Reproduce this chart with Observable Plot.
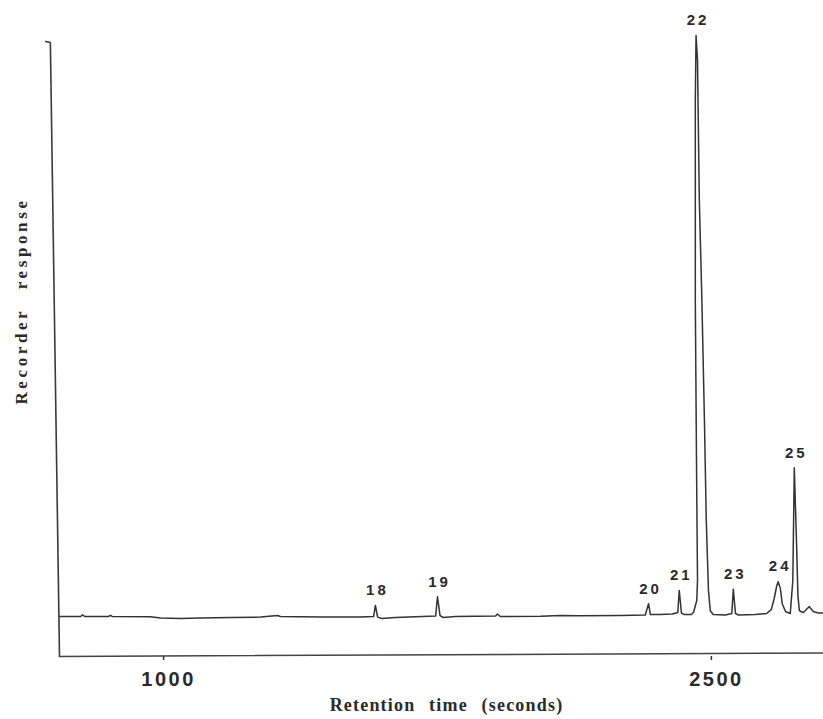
<!DOCTYPE html>
<html>
<head>
<meta charset="utf-8">
<script src="https://cdn.jsdelivr.net/npm/d3@7"></script>
<script src="https://cdn.jsdelivr.net/npm/@observablehq/plot@0.6"></script>
<style>
  html, body { margin: 0; padding: 0; background: #fff; }
  #chart svg { display: block; }
</style>
</head>
<body>
<div id="chart"></div>
<script>
// Chromatogram trace (retention time in seconds, recorder response in arbitrary units)
const traceTime = [715, 773, 778, 784, 849, 855, 860, 964, 992, 1047,
  1101, 1183, 1266, 1312, 1320, 1430, 1539, 1575, 1580, 1586,
  1597, 1635, 1690, 1745, 1750, 1757, 1766, 1799, 1909, 1914,
  1922, 2032, 2087, 2141, 2251, 2319, 2328, 2333, 2360, 2393,
  2408, 2412, 2418, 2426, 2445, 2451, 2460, 2462, 2459, 2456,
  2456, 2458, 2462, 2467, 2474, 2481, 2486, 2492, 2497, 2505,
  2538, 2556, 2560, 2566, 2574, 2620, 2651, 2664, 2672, 2679,
  2683, 2689, 2694, 2703, 2716, 2723, 2727, 2733, 2737, 2741,
  2752, 2760, 2768, 2779, 2793, 2807];
const traceResp = [0, 0, 0.3, 0, 0, 0.2, 0, -0.05, -0.26, -0.34,
  -0.26, -0.17, -0.1, 0.17, 0, -0.1, -0.1, 0, 1.9, -0.1,
  -0.34, -0.17, -0.05, 0.1, 3.4, 0.17, -0.17, 0, 0.1, 0.43,
  0, 0.03, 0.17, 0.12, 0.17, 0.26, 2.2, 0.34, 0.34, 0.43,
  0.69, 4.5, 0.6, 0.34, 0.34, 0.69, 2.75, 6.2, 28.6, 54.4,
  88.8, 100, 95.7, 71.6, 54.4, 33.7, 16.5, 4.5, 1.0, 0.34,
  0.26, 0.52, 4.7, 0.52, 0.26, 0.34, 0.52, 1.2, 3.1, 5.3,
  6.0, 4.8, 2.2, 0.86, 0.52, 6.2, 25.6, 13.1, 3.6, 1.0,
  0.69, 1.2, 1.7, 0.86, 0.6, 0.6];

// Numbered peaks (apex)
const peakNumbers = ["18", "19", "20", "21", "22", "23", "24", "25"];
const peakTimes   = [1580, 1750, 2328, 2412, 2458, 2560, 2683, 2727];
const peakHeights = [1.9, 3.4, 2.2, 4.5, 100, 4.7, 6.0, 25.6];

// Recorder frame lines (pen start line and time axis line)
const startLineTime = [677, 690, 715];
const startLineResp = [98.97, 98.8, -6.88];
const axisLineTime = [715, 2807];
const axisLineResp = [-6.88, -6.28];

const xTicks = [1000, 2500];
const xTitle = "Retention time (seconds)";
const yTitle = "Recorder response";

const trace = traceTime.map((t, i) => ({t, r: traceResp[i]}));
const peaks = peakNumbers.map((label, i) => ({label, t: peakTimes[i], r: peakHeights[i]}));
const startLine = startLineTime.map((t, i) => ({t, r: startLineResp[i]}));
const axisLine = axisLineTime.map((t, i) => ({t, r: axisLineResp[i]}));

const sans = "'Liberation Sans', Arial, Helvetica, sans-serif";
const serif = "'Liberation Serif', 'Times New Roman', serif";

const chart = Plot.plot({
  width: 823,
  height: 719,
  marginLeft: 59,
  marginRight: 0,
  marginTop: 35,
  marginBottom: 63,
  x: {domain: [715, 2807], label: null},
  y: {domain: [-6.88, 100], axis: null, label: null},
  style: {background: "#fff", color: "#333"},
  marks: [
    Plot.line(startLine, {x: "t", y: "r", stroke: "#3a3a3a", strokeWidth: 1.6}),
    Plot.line(axisLine, {x: "t", y: "r", stroke: "#444", strokeWidth: 1.5}),
    Plot.line(trace, {x: "t", y: "r", stroke: "#333", strokeWidth: 1.5, strokeLinejoin: "round"}),
    Plot.axisX({ticks: xTicks, tickFormat: "d", tickSize: 4, tickPadding: 11, strokeWidth: 1.5,
      label: null, fontSize: 20, fontWeight: "bold", fontFamily: sans, fill: "#2a2a2a"}),
    Plot.text(peaks, {x: "t", y: "r", text: "label", dy: -15, dx: 2, fontSize: 15,
      fontWeight: "bold", fontFamily: sans, fill: "#2a2a2a"}),
    Plot.text([xTitle], {frameAnchor: "bottom", textAnchor: "middle", dx: 5, dy: 54, fontSize: 18,
      fontWeight: "bold", fontFamily: serif, fill: "#2a2a2a"}),
    Plot.text([yTitle], {frameAnchor: "left", textAnchor: "middle", rotate: -90, dx: -38, dy: -45, fontSize: 17,
      fontWeight: "bold", fontFamily: serif, fill: "#2a2a2a"})
  ]
});

const sel = d3.select(chart);
sel.selectAll('g[aria-label="x-axis tick label"]').attr("letter-spacing", "2.5px")
  .selectAll("text").attr("dx", 5);
const textGroups = sel.selectAll('g[aria-label="text"]').nodes();
if (textGroups[0]) d3.select(textGroups[0]).attr("letter-spacing", "3px");
if (textGroups[1]) d3.select(textGroups[1]).attr("letter-spacing", "1.2px").attr("word-spacing", "8px");
if (textGroups[2]) d3.select(textGroups[2]).attr("letter-spacing", "3.6px").attr("word-spacing", "11px");

document.getElementById("chart").appendChild(chart);
</script>
</body>
</html>
